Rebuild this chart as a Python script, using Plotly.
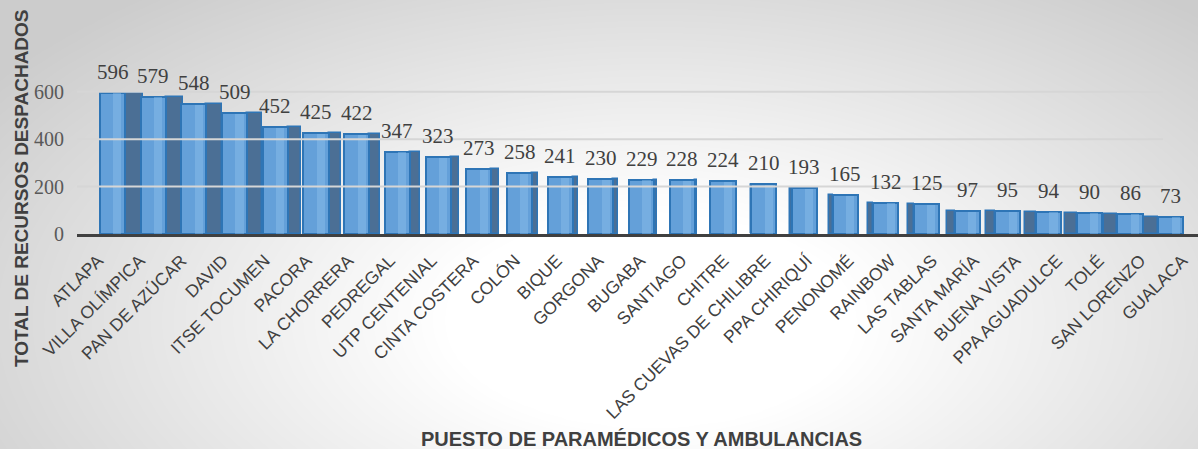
import numpy as np
import plotly.graph_objs as go

puestos = ['ATLAPA', 'VILLA OLÍMPICA', 'PAN DE AZÚCAR', 'DAVID', 'ITSE TOCUMEN', 'PACORA',
           'LA CHORRERA', 'PEDREGAL', 'UTP CENTENIAL', 'CINTA COSTERA', 'COLÓN', 'BIQUE',
           'GORGONA', 'BUGABA', 'SANTIAGO', 'CHITRE', 'LAS CUEVAS DE CHILIBRE', 'PPA CHIRIQUÍ',
           'PENONOMÉ', 'RAINBOW', 'LAS TABLAS', 'SANTA MARÍA', 'BUENA VISTA', 'PPA AGUADULCE',
           'TOLÉ', 'SAN LORENZO', 'GUALACA']
despachos = [596, 579, 548, 509, 452, 425, 422, 347, 323, 273, 258, 241, 230, 229, 228,
             224, 210, 193, 165, 132, 125, 97, 95, 94, 90, 86, 73]

W, H = 1198, 449
L, T, B = 77, 30, 215          # zona de trazado en pixeles
cat_px = 40.7                  # pixeles por categoria (barras)
lab_px = 41.7                  # pixeles por categoria (etiquetas, perspectiva)


def px_x(px):
    return px / W


def px_y(py):
    return 1 - py / H


fig = go.Figure()

# fondo: degradado radial como heatmap en un eje que cubre toda la figura
gx = np.linspace(0, 1, 120)
gy = np.linspace(0, 1, 60)
X, Y = np.meshgrid(gx, gy)
d = np.sqrt(((X * W - 650) / 800) ** 2 + (((1 - Y) * H - 320) / 420) ** 2)
z = 1 - np.clip((d - 0.25) / 0.75, 0, 1)
fig.add_trace(go.Heatmap(x=gx, y=gy, z=z, zmin=0, zmax=1, zsmooth='best', showscale=False,
                         colorscale=[[0, 'rgb(204,204,204)'], [1, 'rgb(255,255,255)']],
                         hoverinfo='skip', xaxis='x', yaxis='y'))

# caras laterales (efecto 3D en perspectiva)
n = len(puestos)
c = 15.6
front_w = 0.615
side_off, side_w = [], []
for i in range(n):
    if i < c:
        w = 18 * (c - i) / c / cat_px
        side_off.append(front_w / 2)
    else:
        w = 15 * (i - c) / (n - 1 - c) / cat_px
        side_off.append(-front_w / 2 - w)
    side_w.append(max(w, 0.001))

fig.add_trace(go.Bar(x=puestos, y=despachos, offset=side_off, width=side_w,
                     marker=dict(color='#4b6f95', line=dict(color='#2e75b6', width=1.5)),
                     hoverinfo='skip', showlegend=False, xaxis='x2', yaxis='y2'))
fig.add_trace(go.Bar(x=puestos, y=despachos, offset=-front_w / 2, width=front_w,
                     marker=dict(color='#64a0d9', line=dict(color='#2e75b6', width=2)),
                     showlegend=False, xaxis='x2', yaxis='y2'))
fig.add_trace(go.Bar(x=puestos, y=[v - 3 for v in despachos], offset=0.02, width=0.2,
                     marker=dict(color='rgba(140,190,235,0.45)', line=dict(width=0)),
                     hoverinfo='skip', showlegend=False, xaxis='x2', yaxis='y2'))
# eje auxiliar solo para las etiquetas de categoria
fig.add_trace(go.Scatter(x=puestos, y=[0] * n, mode='markers', marker=dict(opacity=0),
                         hoverinfo='skip', showlegend=False, xaxis='x3', yaxis='y2'))

for p, v in zip(puestos, despachos):
    fig.add_annotation(x=p, y=v, xref='x2', yref='y2', text=str(v), showarrow=False, yshift=21,
                       font=dict(family='Liberation Serif', size=21, color='#404040'))

ph = H - T - B
ymax = ph / 0.237
for v in [200, 400, 600]:
    fig.add_shape(type='line', xref='paper', yref='y2', x0=px_x(L), x1=px_x(1163), y0=v, y1=v,
                  line=dict(color='#d6d6d6', width=2), layer='above')

fig.add_annotation(text='<b>TOTAL DE RECURSOS DESPACHADOS</b>', xref='paper', yref='paper',
                   x=px_x(21), y=px_y(188), textangle=-90, showarrow=False,
                   xanchor='center', yanchor='middle',
                   font=dict(family='Liberation Sans', size=19, color='#404040'))
fig.add_annotation(text='<b>PUESTO DE PARAMÉDICOS Y AMBULANCIAS</b>', xref='paper', yref='paper',
                   x=px_x(641), y=px_y(439), showarrow=False,
                   xanchor='center', yanchor='middle',
                   font=dict(family='Liberation Sans', size=20, color='#404040'))

dom_x = [L / W, 1]
dom_y = [B / H, 1 - T / H]
fig.update_layout(
    width=W, height=H, margin=dict(l=0, r=0, t=0, b=0, pad=0, autoexpand=False),
    barmode='overlay', bargap=0,
    paper_bgcolor='#cccccc', plot_bgcolor='rgba(0,0,0,0)',
    xaxis=dict(domain=[0, 1], range=[0, 1], visible=False, fixedrange=True, automargin=False),
    yaxis=dict(domain=[0, 1], range=[0, 1], visible=False, fixedrange=True, automargin=False),
    xaxis2=dict(domain=dom_x, anchor='y2', range=[(L - 112.5) / cat_px, (W - 112.5) / cat_px],
                showgrid=False, showline=True, linecolor='#404040', linewidth=3, ticks='',
                showticklabels=False, automargin=False),
    xaxis3=dict(domain=dom_x, anchor='y2', overlaying='x2',
                range=[(L - 98) / lab_px, (W - 98) / lab_px], showgrid=False, showline=False,
                ticks='', tickangle=-45, ticklabelstandoff=12, automargin=False,
                tickfont=dict(family='Liberation Sans', size=17.5, color='#404040')),
    yaxis2=dict(domain=dom_y, anchor='x2', range=[0, ymax], tickvals=[0, 200, 400, 600],
                showgrid=False, zeroline=False, showline=False, ticks='', ticklabelstandoff=12,
                automargin=False,
                tickfont=dict(family='Liberation Serif', size=20, color='#595959')),
)

fig.write_html("out.html", config={'displayModeBar': False},
               post_script="document.body.style.margin='0';")
